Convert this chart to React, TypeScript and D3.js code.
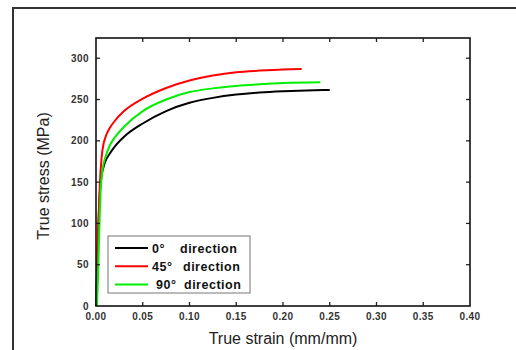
import { useEffect, useRef } from "react";
import * as d3 from "d3";

// true strain (mm/mm) / true stress (MPa)
const strain0 = [0, 0.001, 0.002, 0.003, 0.004, 0.006, 0.008, 0.01, 0.015, 0.02, 0.03, 0.05, 0.075, 0.1, 0.125, 0.15, 0.175, 0.2, 0.225, 0.25];
const stress0 = [0, 35, 75, 110, 135, 158, 168, 175, 185, 193, 205, 221, 236, 246, 252, 256, 258.5, 260, 261, 261.5];

const strain45 = [0, 0.001, 0.002, 0.003, 0.004, 0.006, 0.008, 0.01, 0.015, 0.02, 0.03, 0.05, 0.075, 0.1, 0.125, 0.15, 0.175, 0.2, 0.22];
const stress45 = [0, 40, 80, 115, 145, 180, 196, 204, 216, 224, 236, 251, 264, 273, 279, 283, 285, 286.5, 287];

const strain90 = [0.001, 0.002, 0.003, 0.004, 0.005, 0.007, 0.01, 0.015, 0.02, 0.03, 0.05, 0.075, 0.1, 0.125, 0.15, 0.175, 0.2, 0.24];
const stress90 = [0, 30, 70, 110, 140, 165, 180, 195, 204, 217, 236, 250, 259, 263.5, 266.5, 268.5, 270, 271];

const seriesNames = ["0°", "45°", "90°"];
const seriesColors = ["#000000", "#ff0000", "#00ee00"];

const xTicks = [0, 0.05, 0.1, 0.15, 0.2, 0.25, 0.3, 0.35, 0.4];
const yTicks = [0, 50, 100, 150, 200, 250, 300];

const W = 516;
const H = 350;
const plot = { left: 96, right: 470, top: 38, bottom: 306 };

export default function App() {
  const ref = useRef<SVGSVGElement>(null);

  useEffect(() => {
    if (!ref.current) return;
    const svg = d3.select(ref.current);
    svg.selectAll("*").remove();

    svg.append("rect").attr("width", W).attr("height", H).attr("fill", "#fff");

    // outer frame (top + left edges only visible)
    svg.append("path")
      .attr("d", `M13,${H} L13,8 L${W},8`)
      .attr("fill", "none")
      .attr("stroke", "#333")
      .attr("stroke-width", 2);

    const x = d3.scaleLinear().domain([0, 0.4]).range([plot.left, plot.right]);
    const y = d3.scaleLinear().domain([0, 324.5]).range([plot.bottom, plot.top]);

    const series = [
      { strain: strain0, stress: stress0 },
      { strain: strain45, stress: stress45 },
      { strain: strain90, stress: stress90 },
    ];

    const line = d3.line<[number, number]>()
      .x(d => x(d[0]))
      .y(d => y(d[1]))
      .curve(d3.curveMonotoneX);

    const g = svg.append("g");
    series.forEach((s, i) => {
      g.append("path")
        .datum(s.strain.map((v, j) => [v, s.stress[j]] as [number, number]))
        .attr("fill", "none")
        .attr("stroke", seriesColors[i])
        .attr("stroke-width", 2)
        .attr("d", line);
    });

    const tickLen = 4;
    const axisColor = "#222";

    // ticks on all four sides, pointing inward
    xTicks.forEach(t => {
      if (t === 0 || t === 0.4) return;
      g.append("line").attr("x1", x(t)).attr("x2", x(t)).attr("y1", plot.bottom).attr("y2", plot.bottom - tickLen)
        .attr("stroke", axisColor).attr("stroke-width", 1.3);
      g.append("line").attr("x1", x(t)).attr("x2", x(t)).attr("y1", plot.top).attr("y2", plot.top + tickLen)
        .attr("stroke", axisColor).attr("stroke-width", 1.3);
    });
    yTicks.forEach(t => {
      if (t === 0) return;
      g.append("line").attr("x1", plot.left).attr("x2", plot.left + tickLen).attr("y1", y(t)).attr("y2", y(t))
        .attr("stroke", axisColor).attr("stroke-width", 1.3);
      g.append("line").attr("x1", plot.right).attr("x2", plot.right - tickLen).attr("y1", y(t)).attr("y2", y(t))
        .attr("stroke", axisColor).attr("stroke-width", 1.3);
    });

    svg.append("rect")
      .attr("x", plot.left).attr("y", plot.top)
      .attr("width", plot.right - plot.left).attr("height", plot.bottom - plot.top)
      .attr("fill", "none").attr("stroke", "#111").attr("stroke-width", 1.6);

    const font = "'Liberation Sans', Arial, sans-serif";

    // tick labels
    svg.selectAll(".xlab").data(xTicks).enter().append("text")
      .attr("x", d => x(d)).attr("y", plot.bottom + 14)
      .attr("text-anchor", "middle")
      .style("font-family", font).style("font-size", "10px").style("font-weight", "bold")
      .style("letter-spacing", "0.4px").style("fill", "#333")
      .text(d => d.toFixed(2));

    svg.selectAll(".ylab").data(yTicks).enter().append("text")
      .attr("x", plot.left - 7).attr("y", d => y(d) + 3.5)
      .attr("text-anchor", "end")
      .style("font-family", font).style("font-size", "10px").style("font-weight", "bold")
      .style("letter-spacing", "0.4px").style("fill", "#333")
      .text(d => d);

    // axis titles
    svg.append("text")
      .attr("x", (plot.left + plot.right) / 2).attr("y", 344)
      .attr("text-anchor", "middle")
      .style("font-family", font).style("font-size", "16px").style("fill", "#222")
      .text("True strain (mm/mm)");

    svg.append("text")
      .attr("transform", `translate(49,176) rotate(-90)`)
      .attr("text-anchor", "middle")
      .style("font-family", font).style("font-size", "16px").style("fill", "#222")
      .text("True stress (MPa)");

    // legend
    const lg = svg.append("g").attr("transform", "translate(108,236)");
    lg.append("rect").attr("width", 142).attr("height", 57)
      .attr("fill", "#fff").attr("stroke", "#777").attr("stroke-width", 1);
    const labelX = [44, 44, 48];
    const dirX = [72, 75, 76];
    seriesNames.forEach((name, i) => {
      const ry = 12 + i * 18.3;
      lg.append("line").attr("x1", 7).attr("x2", 40).attr("y1", ry).attr("y2", ry)
        .attr("stroke", seriesColors[i]).attr("stroke-width", 2);
      lg.append("text").attr("x", labelX[i]).attr("y", ry + 4.5)
        .style("font-family", font).style("font-size", "12.5px").style("font-weight", "bold")
        .style("letter-spacing", "0.5px").style("fill", "#111")
        .text(name);
      lg.append("text").attr("x", dirX[i]).attr("y", ry + 4.5)
        .style("font-family", font).style("font-size", "12.5px").style("font-weight", "bold")
        .style("letter-spacing", "0.5px").style("fill", "#111")
        .text("direction");
    });
  }, []);

  return (
    <svg
      ref={ref}
      width={W}
      height={H}
      style={{ position: "absolute", left: 0, top: 0, display: "block" }}
    />
  );
}
